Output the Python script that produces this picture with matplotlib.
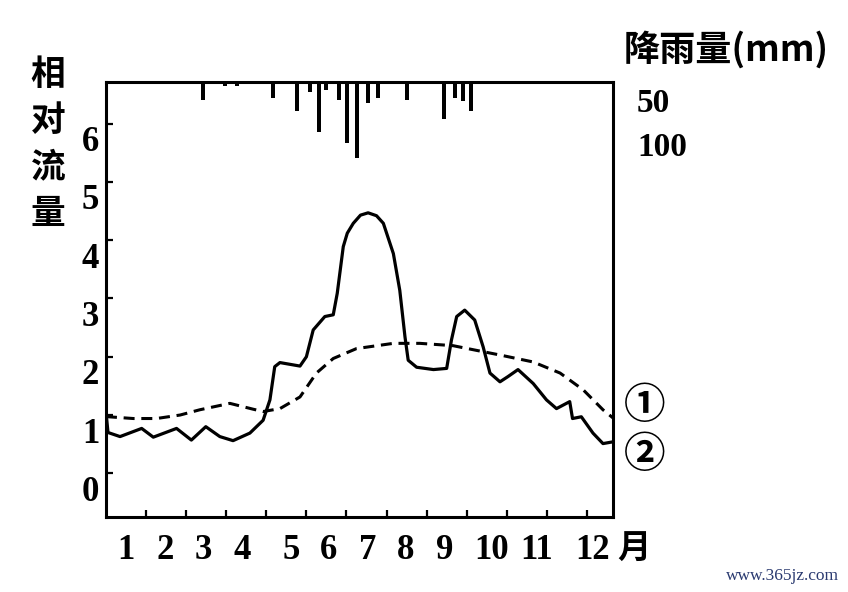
import matplotlib

matplotlib.use("Agg")
import matplotlib.pyplot as plt
from matplotlib.transforms import ScaledTranslation

# relative discharge, curve 1 (dashed) and curve 2 (solid); x in months from start of Jan
dash_x = [0.0, 0.06, 0.68, 1.26, 1.85, 2.34, 3.09, 3.67, 3.92, 4.34, 4.84, 5.25, 5.67,
          6.25, 7.17, 7.83, 8.66, 9.24, 9.83, 10.66, 11.33, 11.91, 12.40, 12.65]
dash_y = [0.98, 0.97, 0.94, 0.94, 1.00, 1.09, 1.20, 1.10, 1.06, 1.11, 1.31, 1.72, 1.97,
          2.14, 2.23, 2.23, 2.19, 2.11, 2.03, 1.91, 1.72, 1.43, 1.09, 0.95]

solid_x = [0.0, 0.05, 0.35, 0.89, 1.18, 1.76, 2.13, 2.49, 2.84, 3.17, 3.59, 3.92, 4.09,
           4.21, 4.34, 4.84, 5.0, 5.17, 5.46, 5.67, 5.77, 5.92, 6.02, 6.17, 6.35, 6.54,
           6.75, 6.92, 7.17, 7.33, 7.46, 7.54, 7.75, 8.17, 8.50, 8.62, 8.75, 8.95, 9.20,
           9.41, 9.58, 9.83, 10.03, 10.28, 10.66, 10.99, 11.24, 11.57, 11.64, 11.86,
           12.15, 12.40, 12.65]
solid_y = [1.05, 0.70, 0.63, 0.77, 0.62, 0.77, 0.57, 0.80, 0.63, 0.56, 0.69, 0.91, 1.26,
           1.83, 1.90, 1.84, 2.00, 2.46, 2.69, 2.72, 3.09, 3.89, 4.12, 4.29, 4.43, 4.47,
           4.42, 4.29, 3.77, 3.14, 2.34, 1.94, 1.82, 1.78, 1.80, 2.29, 2.69, 2.80, 2.63,
           2.17, 1.72, 1.57, 1.66, 1.78, 1.54, 1.26, 1.11, 1.23, 0.94, 0.97, 0.69, 0.51,
           0.54]

# daily rainfall bars (mm), hanging from the top
rain_x = [2.41, 2.97, 3.26, 4.17, 4.76, 5.10, 5.31, 5.50, 5.82, 6.02, 6.27, 6.53, 6.78,
          7.50, 8.43, 8.70, 8.90, 9.10]
rain_mm = [28, 7, 7, 25, 44, 15, 76, 12, 27, 93, 116, 33, 25, 28, 57, 25, 30, 44]

y_ticks = [0, 1, 2, 3, 4, 5, 6]
month_ticks = list(range(1, 13))
month_labels = [str(m) for m in month_ticks]
month_label_pos = [0.5, 1.47, 2.42, 3.4, 4.61, 5.56, 6.53, 7.48, 8.45, 9.63, 10.75, 12.13]

W, H = 848, 592
SERIF = "Liberation Serif"
CJK = ["Noto Sans CJK SC", "DejaVu Sans"]


def fx(px):
    return px / W


def fy(py):
    return 1 - py / H


fig = plt.figure(figsize=(W / 100, H / 100), dpi=100)
ax = fig.add_axes([fx(106), fy(517), 507 / W, 435.3 / H])
ax.set_xlim(0, 12.65)
ax.set_ylim(-0.75, 6.72)

ax.plot(dash_x, dash_y, color="black", lw=2.2, linestyle=(0, (3.6, 2.2)))
ax.plot(solid_x, solid_y, color="black", lw=2.3, solid_joinstyle="round",
        solid_capstyle="round")

for s in ax.spines.values():
    s.set_linewidth(2.2)

ax.set_yticks(y_ticks)
ax.set_yticklabels([str(v) for v in y_ticks], fontfamily=SERIF, fontweight="bold",
                   fontsize=25)
ax.tick_params(axis="y", direction="in", length=5, width=1.6, pad=5)
shift = ScaledTranslation(0, -0.15, fig.dpi_scale_trans)
for lab in ax.get_yticklabels():
    lab.set_transform(lab.get_transform() + shift)

ax.set_xticks(month_ticks)
ax.set_xticklabels([])
ax.tick_params(axis="x", which="major", direction="in", length=5, width=1.6)
ax.set_xticks(month_label_pos, minor=True)
ax.set_xticklabels(month_labels, minor=True, fontfamily=SERIF, fontweight="bold",
                   fontsize=25)
ax.tick_params(axis="x", which="minor", length=0, pad=12)

# rainfall on an inverted twin axis
ax2 = ax.twinx()
ax2.set_ylim(660, 0)
ax2.bar(rain_x, rain_mm, width=0.1, color="black", align="center")
ax2.axis("off")
ax2.set_xlim(0, 12.65)

# labels around the frame
for ch, py in zip("相对流量", [75, 121, 167, 213]):
    fig.text(fx(48), fy(py), ch, family=CJK, fontweight="bold", fontsize=25,
             ha="center", va="center")
fig.text(fx(726), fy(50), "降雨量(mm)", family=CJK, fontweight="bold", fontsize=26,
         ha="center", va="center")
fig.text(fx(637), fy(104), "50", family=SERIF, fontweight="bold", fontsize=24,
         ha="left", va="center")
fig.text(fx(637), fy(148), "100", family=SERIF, fontweight="bold", fontsize=24,
         ha="left", va="center")
fig.text(fx(634), fy(549), "月", family=CJK, fontweight="bold", fontsize=24,
         ha="center", va="center")
fig.text(fx(645), fy(406), "①", family=CJK, fontweight="bold", fontsize=30,
         ha="center", va="center")
fig.text(fx(645), fy(455), "②", family=CJK, fontweight="bold", fontsize=30,
         ha="center", va="center")
fig.text(fx(782), fy(576), "www.365jz.com", family=SERIF, fontsize=12.5,
         color="#2a3a70", ha="center", va="center")

fig.savefig("out.png", dpi=100)
